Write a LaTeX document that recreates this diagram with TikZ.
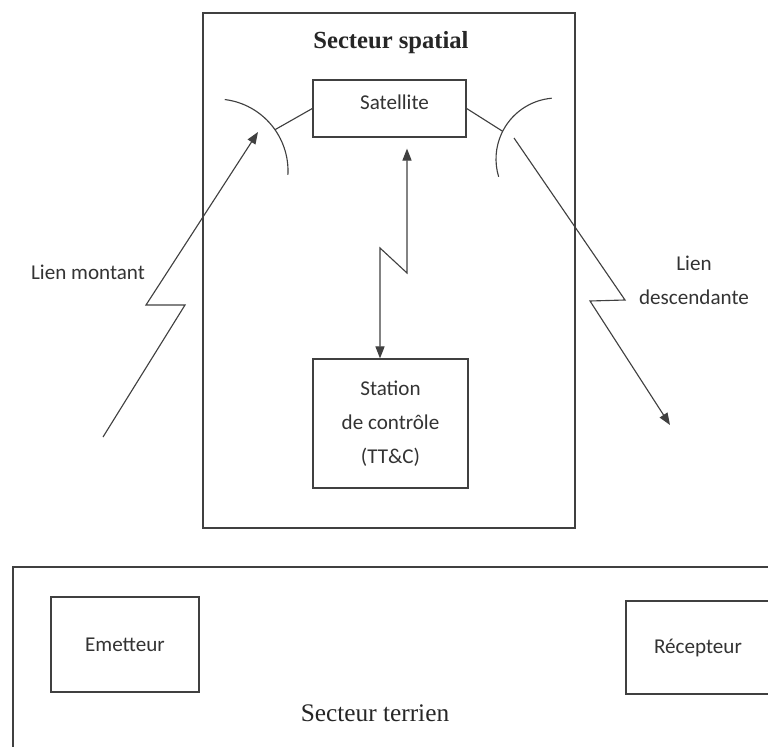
\documentclass[tikz,border=0pt]{standalone}
\usepackage{fontspec}
\setmainfont{Carlito}
\newfontfamily\titlefont{Liberation Serif}
\usetikzlibrary{calc, arrows.meta}

\tikzset{
	bloc/.style={draw=black!75, line width=0.9pt, inner sep=0pt, text=black!80, font=\fontsize{15}{24}\selectfont, align=center},
	texte/.style={text=black!80, font=\fontsize{15}{24}\selectfont, align=center},
	lien/.style={draw=black!75, line width=0.8pt},
	tip/.style={-{Triangle[length=8.5pt, width=6.5pt]}},
	tips/.style={{Triangle[length=8.5pt, width=6.5pt]}-{Triangle[length=8.5pt, width=6.5pt]}},
}

\begin{document}
\begin{tikzpicture}[x=0.025cm, y=-0.025cm]
	\useasboundingbox (0,0) rectangle (768,747);
	\clip (0,0) rectangle (768,747);
	\def\rg{72};
	\def\rd{61};

	% secteur spatial
	\node [bloc, minimum width=9.3cm, minimum height=12.875cm] (spatial) at (389,270.5) {};
	\node [text=black!85, font=\titlefont\bfseries\fontsize{17.5}{20}\selectfont] (spatialtitle) at (391,43) {Secteur spatial};
	\node [bloc, minimum width=3.825cm, minimum height=1.425cm, text depth=0.3cm] (sat) at (389.5,108.5) {\hspace{0.25cm}Satellite};
	\node [bloc, minimum width=3.875cm, minimum height=3.225cm] (station) at (390.5,423.5) {Station\\de contrôle\\(TT\&C)};

	% antennes
	\draw [lien] ([shift={(-83:\rg)}]216,171) arc [start angle=-83, end angle=3, radius=\rg];
	\draw [lien] ([shift={(265:\rd)}]557,159) arc [start angle=265, end angle=163, radius=\rd];
	\coordinate (jg) at ([shift={(-35:\rg)}]216,171);
	\coordinate (jd) at ([shift={(207:\rd)}]557,159);
	\draw [lien] (jg) -- (sat.west);
	\draw [lien] (jd) -- (sat.east);

	% liaison TT&C
	\coordinate (zh) at (407,273);
	\coordinate (zb) at (380,248);
	\draw [lien, tips, shorten <=0.275cm] (sat.south -| zh) -- (zh) -- (zb) -- (station.north -| zb);

	% liens montant et descendant
	\coordinate (upstart) at (103,437);
	\coordinate (uptip) at (258,132);
	\draw [lien, tip] (upstart) -- (185,305) -- (146,305) -- (uptip);
	\coordinate (downstart) at (514,138);
	\coordinate (downtip) at (670,425);
	\draw [lien, tip] (downstart) -- (625,300) -- (590,301) -- (downtip);
	\node [texte] (montant) at (88,272) {Lien montant};
	\node [texte] (descend) at (694,280) {Lien\\descendante};

	% secteur terrien
	\node [bloc, minimum width=19.175cm, minimum height=4.825cm] (terrien) at (396.5,663.5) {};
	\node [bloc, minimum width=3.7cm, minimum height=2.375cm] (emet) at (125,644.5) {Emetteur};
	\node [bloc, minimum width=3.6cm, minimum height=2.325cm] (recep) at (698,647.5) {Récepteur};
	\node [text=black!85, font=\titlefont\fontsize{18}{20}\selectfont] (terrientitle) at (375,713) {Secteur terrien};
\end{tikzpicture}
\end{document}
